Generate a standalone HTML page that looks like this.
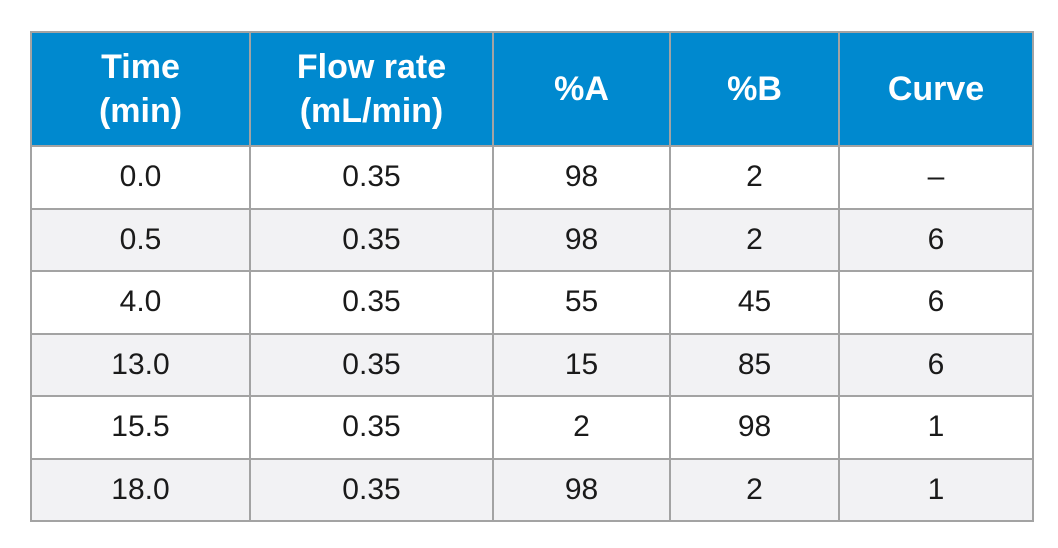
<!DOCTYPE html>
<html><head><meta charset="utf-8"><style>
html,body{margin:0;padding:0;background:#fff;width:1058px;height:548px;overflow:hidden}
table{position:absolute;left:30px;top:31px;border-collapse:collapse;font-family:"Liberation Sans",sans-serif;table-layout:fixed}
td,th{border:2px solid #a3a3a3;text-align:center;padding:0;color:#1a1a1a;font-size:30px;font-weight:normal}
th{background:#0089cf;color:#fff;font-size:34px;font-weight:bold;line-height:44px;height:112px;border-color:#a3a3a3}
thead th+th{border-left:2px solid #cfe6f3}
tbody tr{height:62.5px}
tbody tr:nth-child(even) td{background:#f2f2f4}
</style></head><body>
<table>
<colgroup><col style="width:219px"><col style="width:243px"><col style="width:177px"><col style="width:169px"><col style="width:194px"></colgroup>
<thead><tr>
<th>Time<br>(min)</th>
<th>Flow rate<br>(mL/min)</th>
<th>%A</th>
<th>%B</th>
<th>Curve</th>
</tr></thead>
<tbody>
<tr><td>0.0</td><td>0.35</td><td>98</td><td>2</td><td>–</td></tr>
<tr><td>0.5</td><td>0.35</td><td>98</td><td>2</td><td>6</td></tr>
<tr><td>4.0</td><td>0.35</td><td>55</td><td>45</td><td>6</td></tr>
<tr><td>13.0</td><td>0.35</td><td>15</td><td>85</td><td>6</td></tr>
<tr><td>15.5</td><td>0.35</td><td>2</td><td>98</td><td>1</td></tr>
<tr><td>18.0</td><td>0.35</td><td>98</td><td>2</td><td>1</td></tr>
</tbody></table>
</body></html>
